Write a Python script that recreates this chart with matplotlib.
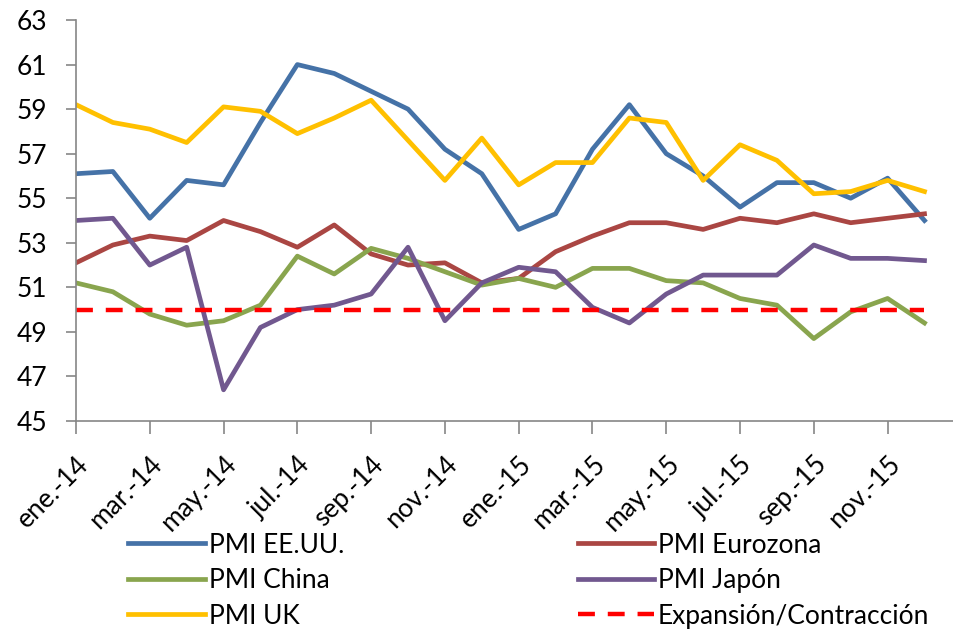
import matplotlib.pyplot as plt
import matplotlib.transforms as mtransforms
import numpy as np

# Meses (ene-14 .. dic-15)
months = ["ene.-14", "feb.-14", "mar.-14", "abr.-14", "may.-14", "jun.-14",
          "jul.-14", "ago.-14", "sep.-14", "oct.-14", "nov.-14", "dic.-14",
          "ene.-15", "feb.-15", "mar.-15", "abr.-15", "may.-15", "jun.-15",
          "jul.-15", "ago.-15", "sep.-15", "oct.-15", "nov.-15", "dic.-15"]

pmi_usa = [56.1, 56.2, 54.1, 55.8, 55.6, 58.4, 61.0, 60.6, 59.8, 59.0, 57.2, 56.1,
           53.6, 54.3, 57.2, 59.2, 57.0, 56.0, 54.6, 55.7, 55.7, 55.0, 55.9, 54.0]
pmi_euro = [52.1, 52.9, 53.3, 53.1, 54.0, 53.5, 52.8, 53.8, 52.5, 52.0, 52.1, 51.2,
            51.4, 52.6, 53.3, 53.9, 53.9, 53.6, 54.1, 53.9, 54.3, 53.9, 54.1, 54.3]
pmi_china = [51.2, 50.8, 49.8, 49.3, 49.5, 50.2, 52.4, 51.6, 52.75, 52.3, 51.7, 51.1,
             51.4, 51.0, 51.85, 51.85, 51.3, 51.2, 50.5, 50.2, 48.7, 49.9, 50.5, 49.4]
pmi_japon = [54.0, 54.1, 52.0, 52.8, 46.4, 49.2, 50.0, 50.2, 50.7, 52.8, 49.5, 51.2,
             51.9, 51.7, 50.1, 49.4, 50.7, 51.55, 51.55, 51.55, 52.9, 52.3, 52.3, 52.2]
pmi_uk = [59.2, 58.4, 58.1, 57.5, 59.1, 58.9, 57.9, 58.6, 59.4, 57.6, 55.8, 57.7,
          55.6, 56.6, 56.6, 58.6, 58.4, 55.8, 57.4, 56.7, 55.2, 55.3, 55.8, 55.3]
umbral = [50.0] * len(months)

plt.rcParams['font.family'] = ['Lato', 'DejaVu Sans']

fig = plt.figure(figsize=(9.54, 6.33), dpi=100)
ax = fig.add_axes([76 / 954, 1 - 421 / 633, 1 - 76 / 954, 401 / 633])

x = np.arange(len(months))
lw = 3.4
ax.plot(x, pmi_usa, color="#4572A7", lw=lw, label="PMI EE.UU.")
ax.plot(x, pmi_euro, color="#AA4643", lw=lw, label="PMI Eurozona")
ax.plot(x, pmi_china, color="#89A54E", lw=lw, label="PMI China")
ax.plot(x, pmi_japon, color="#71588F", lw=lw, label="PMI Japón")
ax.plot(x, pmi_uk, color="#FFC000", lw=lw, label="PMI UK")
ax.plot(x, umbral, color="#FF0000", lw=3.2, ls=(0, (3.8, 2.9)), label="Expansión/Contracción")

ax.set_xlim(0, 23.8)
ax.set_ylim(45, 63)
ax.set_yticks(np.arange(45, 64, 2))
ax.set_xticks(x[::2])
ax.set_xticklabels(months[::2], rotation=45, ha="right", va="top",
                   rotation_mode="anchor")

# desplazar las etiquetas del eje x un poco hacia la derecha
offset = mtransforms.ScaledTranslation(6 / 72, 0, fig.dpi_scale_trans)
for lab in ax.get_xticklabels():
    lab.set_transform(lab.get_transform() + offset)

for s in ["top", "right"]:
    ax.spines[s].set_visible(False)
for s in ["left", "bottom"]:
    ax.spines[s].set_color("#868686")
    ax.spines[s].set_linewidth(1.2)
ax.tick_params(axis="y", direction="out", length=7, width=1.2, color="#868686",
               labelsize=19, pad=14)
ax.tick_params(axis="x", direction="out", length=9, width=1.2, color="#868686",
               labelsize=19, pad=13)

# Orden de la leyenda: dos columnas
h, l = ax.get_legend_handles_labels()
order = [0, 2, 4, 1, 3, 5]
fig.legend([h[i] for i in order], [l[i] for i in order], ncol=2,
           loc="lower left", bbox_to_anchor=(115 / 954, -0.014),
           frameon=False, fontsize=19, handlelength=2.9, handletextpad=0.15,
           columnspacing=8.85, labelspacing=0.4, borderaxespad=0.1)

fig.savefig("out.png", dpi=100)
